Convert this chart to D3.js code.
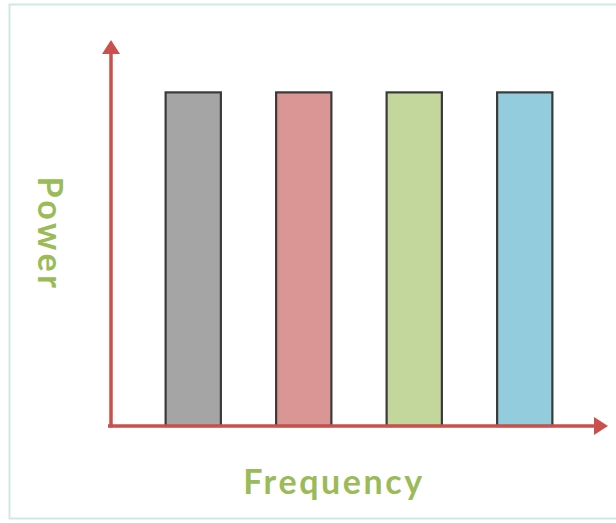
<!DOCTYPE html>
<html>
<head>
<meta charset="utf-8">
<script src="https://cdn.jsdelivr.net/npm/d3@7"></script>
<style>
  html, body { margin: 0; padding: 0; background: #fff; }
  svg { display: block; }
</style>
</head>
<body>
<svg id="chart" width="616" height="523"></svg>
<script>
// Four frequency components, each carrying the same power
const categories = ["f1", "f2", "f3", "f4"];
const powers = [1, 1, 1, 1];
const barColors = ["#a5a5a5", "#d99694", "#c3d69b", "#93cddd"];
const xTitle = "Frequency";
const yTitle = "Power";

const svg = d3.select("#chart");
const W = 616, H = 523;

// light frame around the figure
svg.append("rect")
  .attr("x", 9.5).attr("y", 4.5)
  .attr("width", W + 10).attr("height", 514)
  .attr("fill", "#fff")
  .attr("stroke", "#cfe9e2").attr("stroke-width", 2);

const originX = 111, originY = 426;
const axisTopY = 40, axisRightX = 608;

const x = d3.scaleBand()
  .domain(categories)
  .range([138, 580])
  .paddingInner(0.5)
  .paddingOuter(0.25);

const y = d3.scaleLinear()
  .domain([0, 1.157])
  .range([originY, axisTopY]);

// bars
svg.append("g").selectAll("rect")
  .data(categories)
  .join("rect")
  .attr("x", d => x(d))
  .attr("y", (d, i) => y(powers[i]))
  .attr("width", x.bandwidth())
  .attr("height", (d, i) => y(0) - y(powers[i]))
  .attr("fill", (d, i) => barColors[i])
  .attr("stroke", "#3a3a3a")
  .attr("stroke-width", 2.2);

// axes with arrowheads
const axisColor = "#c9504d";
svg.append("line")
  .attr("x1", originX).attr("y1", originY + 1.5)
  .attr("x2", originX).attr("y2", axisTopY + 10)
  .attr("stroke", axisColor).attr("stroke-width", 3.5);
svg.append("line")
  .attr("x1", originX - 3).attr("y1", originY)
  .attr("x2", axisRightX - 10).attr("y2", originY)
  .attr("stroke", axisColor).attr("stroke-width", 3.5);
svg.append("path")
  .attr("d", `M${originX},${axisTopY} L${originX - 9},${axisTopY + 14} L${originX + 9},${axisTopY + 14} Z`)
  .attr("fill", axisColor);
svg.append("path")
  .attr("d", `M${axisRightX},${originY} L${axisRightX - 14},${originY - 9} L${axisRightX - 14},${originY + 9} Z`)
  .attr("fill", axisColor);

// axis titles
svg.append("text")
  .attr("x", 334).attr("y", 494)
  .attr("text-anchor", "middle")
  .attr("font-family", "Lato, 'Open Sans', sans-serif")
  .attr("font-weight", "bold")
  .attr("font-size", 34)
  .attr("letter-spacing", 2.6)
  .attr("fill", "#9bbb59")
  .text(xTitle);

svg.append("text")
  .attr("transform", "translate(38,234) rotate(90)")
  .attr("text-anchor", "middle")
  .attr("font-family", "Lato, 'Open Sans', sans-serif")
  .attr("font-weight", "bold")
  .attr("font-size", 34)
  .attr("letter-spacing", 3.5)
  .attr("fill", "#9bbb59")
  .text(yTitle);
</script>
</body>
</html>
